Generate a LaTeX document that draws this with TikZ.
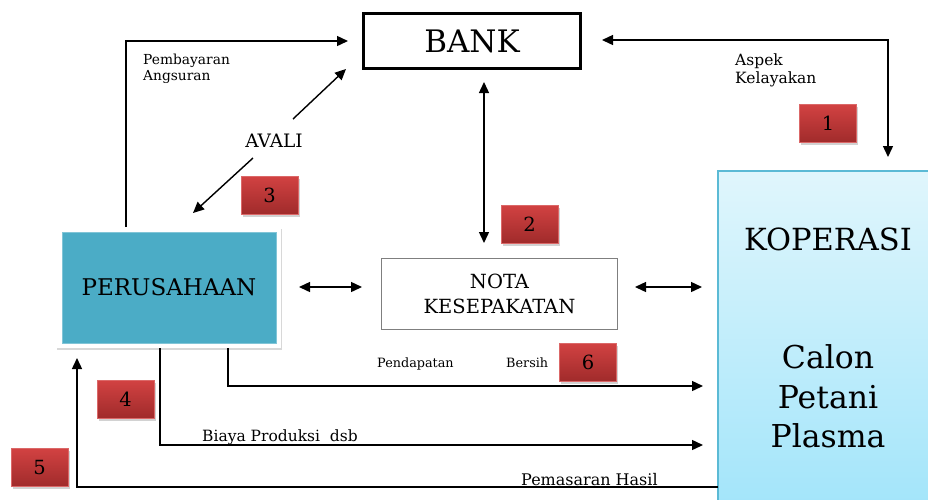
\documentclass[tikz,border=0pt]{standalone}
\usepackage{fontspec}
\setmainfont{DejaVu Serif}
\usetikzlibrary{arrows.meta,shadows}
\definecolor{tealfill}{HTML}{4BACC6}
\definecolor{kopTop}{HTML}{E0F6FC}
\definecolor{kopBot}{HTML}{A3E5FA}
\definecolor{kopLine}{HTML}{5BBAD5}
\definecolor{redTop}{HTML}{D24242}
\definecolor{redBot}{HTML}{A02B2B}
\definecolor{notaLine}{HTML}{7F7F7F}
\begin{document}
\begin{tikzpicture}[x=1pt,y=-1pt,
  conn/.style={line width=1.4pt,-{Triangle[length=11pt,width=10pt]}},
  dconn/.style={line width=1.4pt,{Triangle[length=11pt,width=10pt]}-{Triangle[length=11pt,width=10pt]}},
  badge/.style={minimum width=57pt,minimum height=38pt,inner sep=0pt,
    top color=redTop,bottom color=redBot,draw=redTop!80!white,line width=0.6pt,
    drop shadow={opacity=0.35,shadow xshift=1.5pt,shadow yshift=-2.5pt},
    font=\fontsize{19.5}{20}\selectfont},
  lbl/.style={inner sep=0pt,anchor=base west},
  bigtxt/.style={inner sep=0pt,anchor=base}
]
\useasboundingbox (0,0) rectangle (928,499);
\clip (0,0) rectangle (928,499);
\fill[white] (0,0) rectangle (928,499);

% main boxes
\node[draw,line width=3pt,minimum width=217pt,minimum height=55pt,inner sep=0pt,
  font=\fontsize{31}{31}\selectfont] (bank) at (472,41) {BANK};
\node[fill=white,minimum width=225pt,minimum height=121pt,inner sep=0pt,
  drop shadow={opacity=0.3,shadow xshift=1pt,shadow yshift=-2pt}] (perusbg) at (168.5,287.5) {};
\node[fill=tealfill,draw=tealfill!70!white,line width=0.6pt,minimum width=214pt,minimum height=111pt,inner sep=0pt,
  font=\fontsize{23}{23}\selectfont] (perus) at (169,287.5) {PERUSAHAAN};
\node[draw=notaLine,line width=1pt,minimum width=236pt,minimum height=71pt,inner sep=0pt,align=center,
  font=\fontsize{19.5}{25}\selectfont] (nota) at (499.5,293.5) {NOTA\\KESEPAKATAN};
\node[top color=kopTop,bottom color=kopBot,draw=kopLine,line width=1.5pt,
  minimum width=222pt,minimum height=336pt,inner sep=0pt] (kop) at (829,339) {};
\node[bigtxt,font=\fontsize{30.5}{30}\selectfont] (kop1) at (828,250) {KOPERASI};
\node[bigtxt,font=\fontsize{31.5}{30}\selectfont] (kop2) at (828,368) {Calon};
\node[bigtxt,font=\fontsize{31.5}{30}\selectfont] (kop3) at (828,408) {Petani};
\node[bigtxt,font=\fontsize{31.5}{30}\selectfont] (kop4) at (828,447) {Plasma};

% badges
\node[badge] (b1) at (828,123.5) {1};
\node[badge] (b2) at (529.5,224) {2};
\node[badge] (b3) at (269.5,195) {3};
\node[badge] (b4) at (125.5,399) {4};
\node[badge] (b5) at (39.5,467.5) {5};
\node[badge] (b6) at (588,362) {6};

% labels
\node[lbl,font=\fontsize{13.8}{13}\selectfont] (pem1) at (143,64) {Pembayaran};
\node[lbl,font=\fontsize{13.8}{13}\selectfont] (pem2) at (143,80) {Angsuran};
\node[lbl,font=\fontsize{15.5}{15}\selectfont] (asp1) at (735,65) {Aspek};
\node[lbl,font=\fontsize{15.5}{15}\selectfont] (asp2) at (735,83) {Kelayakan};
\node[bigtxt,font=\fontsize{18.5}{18}\selectfont] (avali) at (274,147) {AVALI};
\node[lbl,font=\fontsize{12.8}{12}\selectfont] (pend) at (377,367) {Pendapatan};
\node[lbl,font=\fontsize{12.8}{12}\selectfont] (bers) at (506,367) {Bersih};
\node[lbl,font=\fontsize{15.5}{15}\selectfont] (biaya) at (202,441) {Biaya Produksi~~dsb};
\node[lbl,font=\fontsize{16}{16}\selectfont] (pemas) at (521,485) {Pemasaran Hasil};

% connector end points
\coordinate (pemS) at (126,227);
\coordinate (pemE) at (348,41);
\coordinate (av1S) at (293,119);
\coordinate (av1E) at (346,69);
\coordinate (av2S) at (253,158);
\coordinate (av2E) at (193,213);
\coordinate (bkR) at (602,40);
\coordinate (bkC) at (888,40);
\coordinate (kopT) at (888,157);
\coordinate (vT) at (484,82);
\coordinate (vB) at (484,243);
\coordinate (h1L) at (299,287);
\coordinate (h1R) at (362,287);
\coordinate (h2L) at (635,287);
\coordinate (h2R) at (702,287);
\coordinate (pdS) at (228,348);
\coordinate (pdE) at (703,386);
\coordinate (byS) at (160,348);
\coordinate (byE) at (703,445);
\coordinate (psS) at (718,487);
\coordinate (psE) at (77,358);

% connectors
\draw[conn] (pemS) |- (pemE);
\draw[conn] (av1S) -- (av1E);
\draw[conn] (av2S) -- (av2E);
\draw[dconn] (bkR) -- (bkC) -- (kopT);
\draw[dconn] (vT) -- (vB);
\draw[dconn] (h1L) -- (h1R);
\draw[dconn] (h2L) -- (h2R);
\draw[conn] (pdS) |- (pdE);
\draw[conn] (byS) |- (byE);
\draw[conn] (psS) -| (psE);
\end{tikzpicture}
\end{document}
